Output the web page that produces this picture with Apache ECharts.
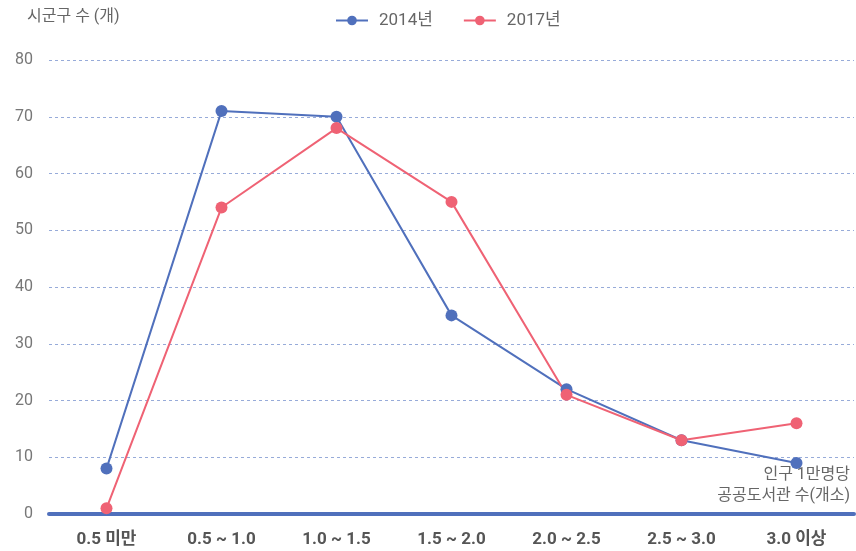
<!DOCTYPE html>
<html>
<head>
<meta charset="utf-8">
<script src="https://cdn.jsdelivr.net/npm/echarts@6/dist/echarts.min.js"></script>
<style>
  html, body { margin: 0; padding: 0; background: #fff; }
  #chart { width: 856px; height: 551px; }
</style>
</head>
<body>
<div id="chart"></div>
<script>
// 인구 1만명당 공공도서관 수 구간별 시군구 수
const categories = ['0.5 미만', '0.5 ~ 1.0', '1.0 ~ 1.5', '1.5 ~ 2.0', '2.0 ~ 2.5', '2.5 ~ 3.0', '3.0 이상'];
const seriesNames = ['2014년', '2017년'];
const values2014 = [8, 71, 70, 35, 22, 13, 9];
const values2017 = [1, 54, 68, 55, 21, 13, 16];
const yTicks = { min: 0, max: 80, interval: 10 };
const yTitle = '시군구 수 (개)';
const xNote = ['인구 1만명당', '공공도서관 수(개소)'];

const FONT = 'Roboto, "Noto Sans CJK KR", sans-serif';
const BLUE = '#5070bc';
const RED = '#ef6274';

const chart = echarts.init(document.getElementById('chart'));
chart.setOption({
  backgroundColor: '#fff',
  animation: false,
  textStyle: { fontFamily: FONT },
  grid: { left: 49, right: 2, top: 60, bottom: 37 },
  legend: {
    top: 7,
    left: 330,
    itemGap: 30,
    itemWidth: 32,
    itemHeight: 12,
    textStyle: { fontSize: 17, color: '#666', fontFamily: FONT, padding: [0, 0, 0, 6] },
    data: seriesNames
  },
  graphic: [
    {
      type: 'text', left: 27, top: 9,
      style: { text: yTitle, fontSize: 16, fill: '#666', fontFamily: FONT }
    },
    {
      type: 'text', right: 6, top: 467,
      style: { text: xNote[0], fontSize: 16, fill: '#666', fontFamily: FONT }
    },
    {
      type: 'text', right: 6, top: 488,
      style: { text: xNote[1], fontSize: 16, fill: '#666', fontFamily: FONT }
    }
  ],
  xAxis: {
    type: 'category',
    data: categories,
    boundaryGap: true,
    axisLine: { show: true, lineStyle: { color: BLUE, width: 4 } },
    axisTick: { show: false },
    axisLabel: { fontSize: 17, fontWeight: 'bold', color: '#555', margin: 17, fontFamily: FONT }
  },
  yAxis: {
    type: 'value',
    min: yTicks.min, max: yTicks.max, interval: yTicks.interval,
    axisLine: { show: false },
    axisTick: { show: false },
    axisLabel: { fontSize: 16, color: '#777', margin: 16, fontFamily: FONT },
    splitLine: { show: true, lineStyle: { color: '#97abd9', type: [3, 3], width: 1 } }
  },
  series: [
    {
      name: seriesNames[0], type: 'line', data: values2014,
      symbol: 'circle', symbolSize: 12,
      itemStyle: { color: BLUE },
      lineStyle: { color: BLUE, width: 2 }
    },
    {
      name: seriesNames[1], type: 'line', data: values2017,
      symbol: 'circle', symbolSize: 12,
      itemStyle: { color: RED },
      lineStyle: { color: RED, width: 2 }
    }
  ]
});
</script>
</body>
</html>
